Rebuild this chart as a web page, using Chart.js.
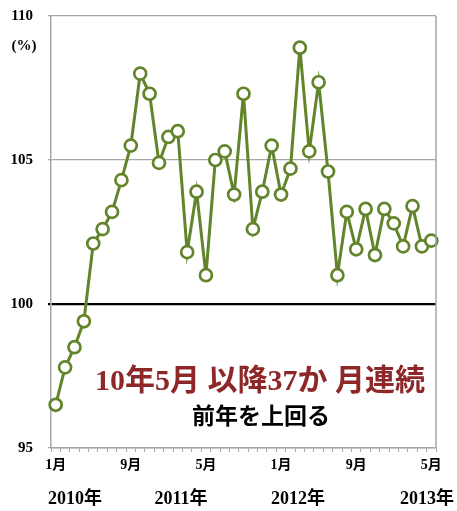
<!DOCTYPE html>
<html>
<head>
<meta charset="utf-8">
<script src="https://cdn.jsdelivr.net/npm/chart.js@4/dist/chart.umd.min.js"></script>
<style>
  html, body { margin: 0; padding: 0; background: #ffffff; }
  #wrap { position: relative; width: 457px; height: 511px; }
</style>
</head>
<body>
<div id="wrap"><canvas id="c" width="457" height="511"></canvas></div>
<script>
// Monthly categories, Jan 2010 - May 2013
const months = [
  '1月','2月','3月','4月','5月','6月','7月','8月','9月','10月','11月','12月',
  '1月','2月','3月','4月','5月','6月','7月','8月','9月','10月','11月','12月',
  '1月','2月','3月','4月','5月','6月','7月','8月','9月','10月','11月','12月',
  '1月','2月','3月','4月','5月'
];

// Year-on-year ratio (%)
const ratio = [
  96.5, 97.8, 98.5, 99.4, 102.1, 102.6, 103.2, 104.3, 105.5, 108.0, 107.3, 104.9,
  105.8, 106.0, 101.8, 103.9, 101.0, 105.0, 105.3, 103.8, 107.3, 102.6, 103.9, 105.5,
  103.8, 104.7, 108.9, 105.3, 107.7, 104.6, 101.0, 103.2, 101.9, 103.3, 101.7, 103.3,
  102.8, 102.0, 103.4, 102.0, 102.2
];

// Axis text
const yTicks = [95, 100, 105, 110];
const yUnit = '(%)';
const years = ['2010年', '2011年', '2012年', '2013年'];
const headline = '10年5月 以降37か 月連続';
const subline = '前年を上回る';

const serifBold = '"Liberation Serif", "Times New Roman", "Noto Sans CJK JP", serif';
const gothic = '"Noto Sans CJK JP", sans-serif';

// Extra text and the right-hand frame line
const decorations = {
  id: 'decorations',
  afterDraw(chart) {
    const ctx = chart.ctx;
    const area = chart.chartArea;
    ctx.save();

    // right frame
    ctx.strokeStyle = '#a6a6a6';
    ctx.lineWidth = 1.5;
    ctx.beginPath();
    ctx.moveTo(area.right, area.top);
    ctx.lineTo(area.right, area.bottom);
    ctx.stroke();

    // unit label under the top tick
    ctx.fillStyle = '#000';
    ctx.font = 'bold 15px ' + serifBold;
    ctx.textAlign = 'center';
    ctx.textBaseline = 'middle';
    ctx.fillText(yUnit, 24, 46);

    // year row
    const yearX = [75, 181, 298, 427];
    ctx.font = 'bold 18px ' + serifBold;
    years.forEach((t, i) => ctx.fillText(t, yearX[i], 499));

    // annotation
    ctx.fillStyle = '#8e2727';
    ctx.font = 'bold 30px ' + serifBold;
    ctx.fillText(headline, 260, 382);
    ctx.fillStyle = '#000';
    ctx.font = 'bold 23px ' + gothic;
    ctx.fillText(subline, 261, 415);

    ctx.restore();
  }
};

new Chart(document.getElementById('c'), {
  type: 'line',
  data: {
    labels: months,
    datasets: [{
      data: ratio,
      borderColor: '#62842a',
      borderWidth: 3,
      pointRadius: 6,
      pointBorderWidth: 2.7,
      pointBackgroundColor: '#ffffff',
      pointBorderColor: '#62842a',
      tension: 0,
      fill: false
    }]
  },
  options: {
    responsive: false,
    animation: false,
    devicePixelRatio: 1,
    layout: { autoPadding: false, padding: { top: 16, right: 21, bottom: 0, left: 0 } },
    plugins: {
      legend: { display: false },
      tooltip: { enabled: false }
    },
    scales: {
      x: {
        offset: true,
        afterFit(scale) {
          scale.height = 63;
          scale.paddingLeft = 0;
          scale.paddingRight = 0;
        },
        border: { color: '#a6a6a6', width: 1.5 },
        grid: {
          offset: true,
          drawOnChartArea: false,
          drawTicks: true,
          tickLength: 4,
          tickColor: '#a6a6a6'
        },
        ticks: {
          autoSkip: false,
          maxRotation: 0,
          minRotation: 0,
          padding: 5,
          color: '#000',
          font: { family: serifBold, size: 14, weight: 'bold' },
          callback(value, index) { return index % 8 === 0 ? months[index] : ''; }
        }
      },
      y: {
        min: 95,
        max: 110,
        afterFit(scale) {
          scale.width = 51;
          scale.paddingTop = 0;
          scale.paddingBottom = 0;
        },
        afterBuildTicks(scale) { scale.ticks = yTicks.map(v => ({ value: v })); },
        border: { color: '#a6a6a6', width: 1.5 },
        grid: {
          drawTicks: true,
          tickLength: 3,
          color(ctx) { return ctx.tick && ctx.tick.value === 100 ? '#000000' : '#a6a6a6'; },
          lineWidth(ctx) { return ctx.tick && ctx.tick.value === 100 ? 2.2 : 1.2; }
        },
        ticks: {
          padding: 15,
          color: '#000',
          font: { family: serifBold, size: 15, weight: 'bold' }
        }
      }
    }
  },
  plugins: [decorations]
});
</script>
</body>
</html>
